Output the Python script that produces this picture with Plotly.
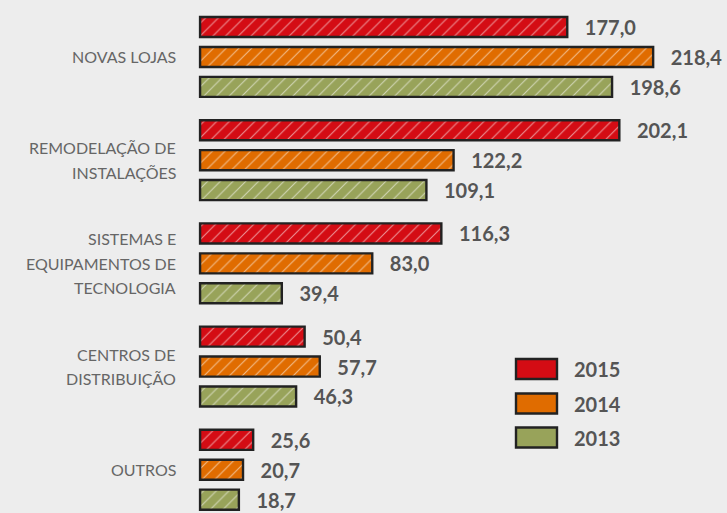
import plotly.graph_objects as go

categories = ["NOVAS LOJAS", "REMODELAÇÃO DE<br>INSTALAÇÕES",
              "SISTEMAS E<br>EQUIPAMENTOS DE<br>TECNOLOGIA",
              "CENTROS DE<br>DISTRIBUIÇÃO", "OUTROS"]
series_names = ["2015", "2014", "2013"]
values_2015 = [177.0, 202.1, 116.3, 50.4, 25.6]
values_2014 = [218.4, 122.2, 83.0, 57.7, 20.7]
values_2013 = [198.6, 109.1, 39.4, 46.3, 18.7]
colors = ["#d40c14", "#e06c00", "#98a35a"]

BG = "#ededed"
fig = go.Figure()
for name, vals, col in zip(series_names, [values_2015, values_2014, values_2013], colors):
    fig.add_trace(go.Bar(
        y=categories, x=vals, name=name, orientation="h",
        marker=dict(color=col, line=dict(color="#222222", width=2.4),
                    pattern=dict(shape="/", fgcolor="white", bgcolor=col,
                                 size=9, solidity=0.12, fgopacity=0.55)),
        text=vals, texttemplate="\u00a0\u00a0\u00a0%{x:.1f}",
        textposition="outside", cliponaxis=False, constraintext="none",
        textfont=dict(family="Lato", size=20, color="#555555", weight="bold"),
        showlegend=False,
    ))

# category labels, one annotation per line for wider line spacing
LINE = 24.5
for cat in categories:
    lines = cat.split("<br>")
    n = len(lines)
    for i, ln in enumerate(lines):
        fig.add_annotation(xref="paper", yref="y", x=0, y=cat, text=ln,
                           showarrow=False, xanchor="right", yanchor="middle",
                           xshift=-20, yshift=((n - 1) / 2 - i) * LINE,
                           font=dict(family="Lato", size=16, color="#666666"))

# legend drawn manually
leg_y = [369, 403.5, 437.5]
for i, (name, col) in enumerate(zip(series_names, colors)):
    yc = 1 - leg_y[i] / 513
    fig.add_shape(type="rect", xref="paper", yref="paper",
                  x0=(516 - 198) / 529, x1=(557 - 198) / 529,
                  y0=yc - 10 / 513, y1=yc + 10 / 513,
                  fillcolor=col, line=dict(color="#222222", width=2.4))
    fig.add_annotation(xref="paper", yref="paper", x=(572 - 198) / 529, y=yc,
                       text=name, showarrow=False, xanchor="left", yanchor="middle",
                       font=dict(family="Lato", size=20, color="#555555", weight="bold"))

fig.update_layout(
    width=727, height=513,
    margin=dict(l=198, r=0, t=0, b=0),
    paper_bgcolor=BG, plot_bgcolor=BG,
    barmode="group", bargap=0.13, bargroupgap=0.33,
    separators=",.",
    xaxis=dict(range=[-1, 254], visible=False),
    yaxis=dict(range=[4.419, -0.552], showgrid=False, zeroline=False, showline=False,
               ticks="", showticklabels=False),
)
fig.write_html("out.html", config={"displayModeBar": False},
               post_script="document.body.style.margin='0';document.body.style.overflow='hidden';")
